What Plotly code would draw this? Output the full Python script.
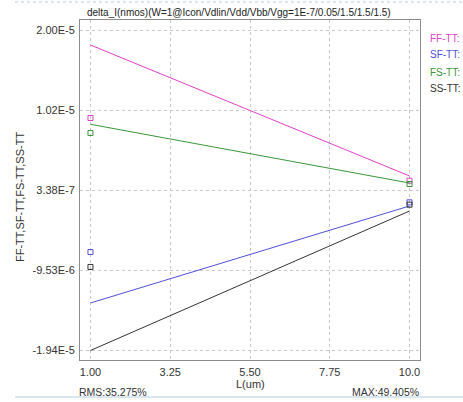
import plotly.graph_objects as go

# ---- data ----
L_um = [1.0, 10.0]
series_names = ["FF-TT", "SF-TT", "FS-TT", "SS-TT"]
series_colors = ["#e040c8", "#5050d8", "#3a963a", "#333333"]

# simulated lines (at L = 1 and L = 10)
line_FF = [1.821e-5, 2.06e-6]
line_SF = [-1.360e-5, -1.64e-6]
line_FS = [8.43e-6, 1.19e-6]
line_SS = [-1.946e-5, -2.26e-6]

# measured points (at L = 1 and L = 10)
pts_FF = [9.21e-6, 1.48e-6]
pts_SF = [-7.32e-6, -1.19e-6]
pts_FS = [7.36e-6, 1.07e-6]
pts_SS = [-9.16e-6, -1.48e-6]

x_tick_vals = [1.0, 3.25, 5.5, 7.75, 10.0]
x_tick_text = ["1.00", "3.25", "5.50", "7.75", "10.0"]
y_tick_vals = [2.006e-5, 1.0195e-5, 3.3e-7, -9.535e-6, -1.94e-5]
y_tick_text = ["2.00E-5", "1.02E-5", "3.38E-7", "-9.53E-6", "-1.94E-5"]

title_text = "delta_I(nmos)(W=1@Icon/Vdlin/Vdd/Vbb/Vgg=1E-7/0.05/1.5/1.5/1.5)"
rms_text = "RMS:35.275%"
max_text = "MAX:49.405%"

lines = [line_FF, line_SF, line_FS, line_SS]
points = [pts_FF, pts_SF, pts_FS, pts_SS]

FONT = "Liberation Sans, Arial, sans-serif"

fig = go.Figure()
for name, col, ln, pt in zip(series_names, series_colors, lines, points):
    fig.add_trace(go.Scatter(x=L_um, y=ln, mode="lines", name=name,
                             line=dict(color=col, width=1), showlegend=False))
    fig.add_trace(go.Scatter(x=L_um, y=pt, mode="markers", name=name,
                             marker=dict(symbol="square-open", size=5,
                                         color=col, line=dict(color=col, width=1)),
                             showlegend=False))

# axis ranges: dotted grid box spans ticks, frame is 10.5px beyond
xr = [1.0 - 10.5 * 9 / 320, 10.0 + 10.5 * 9 / 320]
ystep_px = (y_tick_vals[0] - y_tick_vals[-1]) / 320
yr = [y_tick_vals[-1] - 10 * ystep_px, y_tick_vals[0] + 10 * ystep_px]

grid = dict(showgrid=True, gridcolor="#c8c8c8", griddash="dot", gridwidth=1,
            zeroline=False, showline=True, linecolor="#8c8c8c", linewidth=1,
            mirror=True, ticks="", tickfont=dict(family=FONT, size=11, color="#333333"))

fig.update_xaxes(range=xr, tickvals=x_tick_vals, ticktext=x_tick_text,
                 ticklabelstandoff=2, **grid)
fig.update_yaxes(range=yr, tickvals=y_tick_vals, ticktext=y_tick_text,
                 ticklabelstandoff=2, **grid)

ann = []
ann.append(dict(text=title_text, xref="paper", yref="paper", x=(239 - 80) / 340,
                y=1 + 8 / 340, xanchor="center", yanchor="middle", showarrow=False,
                font=dict(family=FONT, size=10, color="#222222")))
legend_y = [38, 55, 72, 89]
for name, col, py in zip(series_names, series_colors, legend_y):
    ann.append(dict(text=name + ":", xref="paper", yref="paper", x=(428 - 80) / 340,
                    y=(360 - py) / 340, xanchor="left", yanchor="middle", showarrow=False,
                    font=dict(family=FONT, size=10, color=col)))
ann.append(dict(text=",".join(series_names), xref="paper", yref="paper",
                x=(20 - 80) / 340, y=(360 - 197) / 340, textangle=-90,
                xanchor="center", yanchor="middle", showarrow=False,
                font=dict(family=FONT, size=11, color="#333333")))
ann.append(dict(text="L(um)", xref="paper", yref="paper", x=(250 - 80) / 340,
                y=(360 - 384) / 340, xanchor="center", yanchor="middle", showarrow=False,
                font=dict(family=FONT, size=11, color="#333333")))
ann.append(dict(text=rms_text, xref="paper", yref="paper", x=(77 - 80) / 340,
                y=(360 - 392) / 340, xanchor="left", yanchor="middle", showarrow=False,
                font=dict(family=FONT, size=10.5, color="#333333")))
ann.append(dict(text=max_text, xref="paper", yref="paper", x=(421 - 80) / 340,
                y=(360 - 392) / 340, xanchor="right", yanchor="middle", showarrow=False,
                font=dict(family=FONT, size=10.5, color="#333333")))

shapes = [
    dict(type="line", xref="paper", yref="paper", x0=(15 - 80) / 340, x1=(463 - 80) / 340,
         y0=(360 - 2) / 340, y1=(360 - 2) / 340, line=dict(color="#b4cce4", width=1, dash="dot")),
    dict(type="line", xref="paper", yref="paper", x0=(15 - 80) / 340, x1=(463 - 80) / 340,
         y0=(360 - 397) / 340, y1=(360 - 397) / 340, line=dict(color="#b4cce4", width=1)),
]

fig.update_layout(width=463, height=402, margin=dict(l=80, r=43, t=20, b=42),
                  paper_bgcolor="white", plot_bgcolor="white",
                  annotations=ann, shapes=shapes, showlegend=False,
                  font=dict(family=FONT))

fig.write_html("out.html", config={"displayModeBar": False},
               post_script="document.body.style.margin='0px';document.body.style.overflow='hidden';")
